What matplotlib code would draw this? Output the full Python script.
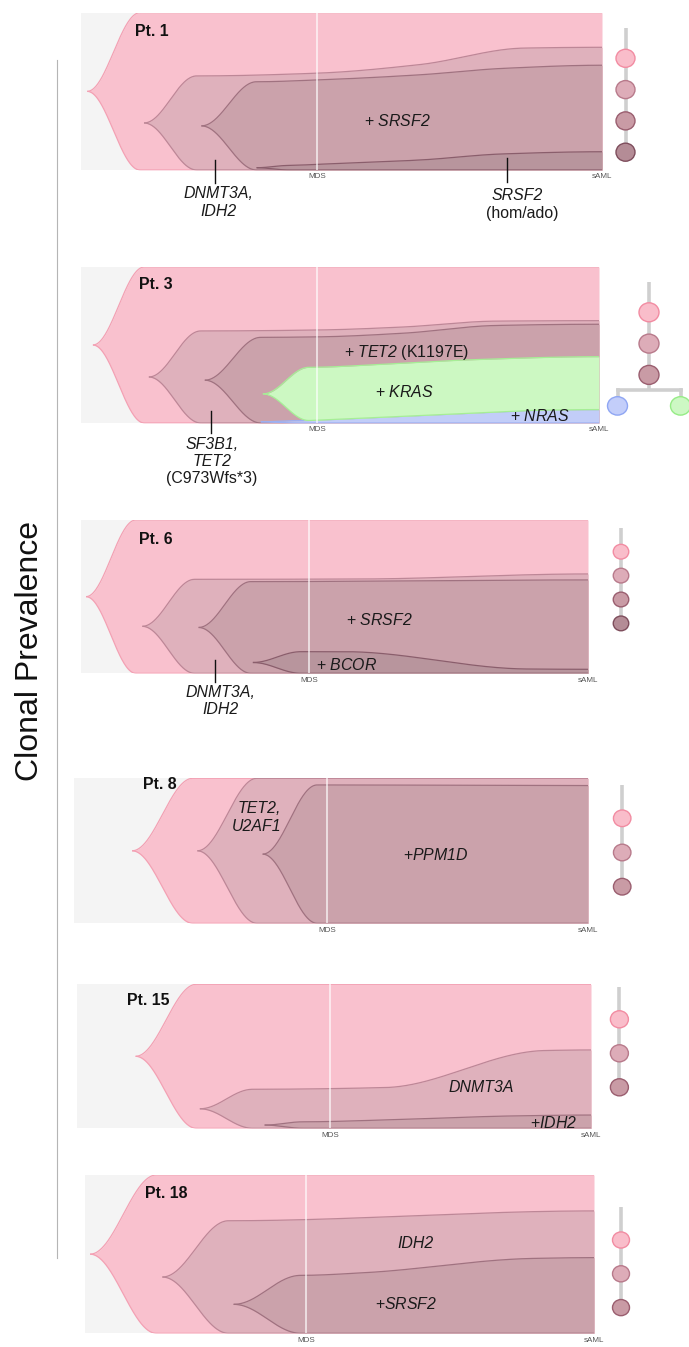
import numpy as np
import matplotlib
matplotlib.use("Agg")
import matplotlib.pyplot as plt
from matplotlib.patches import Ellipse

plt.rcParams['font.family'] = ['Liberation Sans', 'DejaVu Sans']
plt.rcParams['mathtext.fontset'] = 'custom'
plt.rcParams['mathtext.rm'] = 'Liberation Sans'
plt.rcParams['mathtext.it'] = 'Liberation Sans:italic'
plt.rcParams['mathtext.sf'] = 'Liberation Sans:italic'
plt.rcParams['mathtext.bf'] = 'Liberation Sans:bold'

# ======================= DATA =======================
# time axis per panel: 0 = panel start, 100 = sAML sample; y = clonal prevalence (%)
patients = ["Pt. 1", "Pt. 3", "Pt. 6", "Pt. 8", "Pt. 15", "Pt. 18"]
mds_time = [45.3, 45.6, 45.0, 49.2, 49.2, 43.4]

# Pt. 1 : founder, DNMT3A/IDH2, +SRSF2, SRSF2 hom/ado
pt1_emerge = [1.2, 12.1, 23.1, 33.7]
pt1_expand = [11.3, 22.2, 33.7, 40.0]
pt1_t = [[11.3, 100], [22.2, 45, 65, 85, 100], [33.7, 45, 65, 81, 100], [40, 45.3, 65.3, 80.8, 100]]
pt1_v = [[100, 100], [59.8, 61.5, 67, 77.5, 78], [56.1, 57.2, 60.5, 64.6, 66.6], [2.9, 3.6, 6.4, 10.2, 11.6]]
pt1_below = [None, None, None, None]
pt1_kind = ["d1", "d2", "d3", "d4"]

# Pt. 3 : founder, SF3B1/TET2, +TET2 K1197E, +NRAS, +KRAS
pt3_emerge = [2.3, 13.1, 23.9, 34.7, 35.1]
pt3_expand = [12.2, 23.1, 34.7, 42.0, 44.0]
pt3_t = [[12.2, 100], [23.1, 45.6, 62, 80, 100], [34.7, 45.6, 62, 80, 100], [42, 50, 73.5, 90, 100], [44, 60, 75, 100]]
pt3_v = [[100, 100], [59, 59.6, 61.5, 65.3, 65.6], [54.9, 55.2, 57.5, 62.5, 63.3], [1.5, 2.5, 6.0, 8.3, 8.6], [35.7, 38, 40.5, 42.5]]
pt3_below = [None, None, None, None, 3]
pt3_kind = ["d1", "d2", "d3", "blue", "green"]

# Pt. 6 : founder, DNMT3A/IDH2, +SRSF2, +BCOR
pt6_emerge = [1.0, 12.1, 23.2, 33.9]
pt6_expand = [10.8, 22.4, 33.5, 43.4]
pt6_t = [[10.8, 100], [22.4, 55, 100], [33.5, 100], [43.4, 52, 88, 100]]
pt6_v = [[100, 100], [61.3, 61.5, 64.8], [59.8, 60.9], [14.1, 14.1, 2.8, 2.6]]
pt6_below = [None, None, None, None]
pt6_kind = ["d1", "d2", "d3", "d4"]

# Pt. 8 : founder, TET2/U2AF1, +PPM1D
pt8_emerge = [11.3, 24.0, 36.7]
pt8_expand = [23.1, 35.6, 47.3]
pt8_t = [[23.1, 100], [35.6, 100], [47.3, 100]]
pt8_v = [[100, 100], [100, 100], [95.4, 95.0]]
pt8_below = [None, None, None]
pt8_kind = ["d1", "d2", "d3"]

# Pt. 15 : founder, DNMT3A, +IDH2
pt15_emerge = [11.4, 23.9, 36.5]
pt15_expand = [23.2, 34.2, 44.0]
pt15_t = [[23.2, 100], [34.2, 60, 91, 100], [44, 60, 85, 100]]
pt15_v = [[100, 100], [27.1, 28.3, 54, 54.4], [4.5, 5.8, 8.6, 9.2]]
pt15_below = [None, None, None]
pt15_kind = ["d1", "d2", "d3"]

# Pt. 18 : founder, IDH2, +SRSF2
pt18_emerge = [1.0, 15.2, 29.2]
pt18_expand = [14.0, 28.2, 42.4]
pt18_t = [[14, 100], [28.2, 100], [42.4, 55, 88, 100]]
pt18_v = [[100, 100], [71.1, 77.3], [36.6, 38.3, 47.3, 47.8]]
pt18_below = [None, None, None]
pt18_kind = ["d1", "d2", "d3"]

# label texts
pt1_texts = [r"+ $\mathsf{SRSF2}$", "DNMT3A,", "IDH2", "SRSF2", "(hom/ado)"]
pt3_texts = [r"+ $\mathsf{TET2}$ (K1197E)", r"+ $\mathsf{KRAS}$", r"+ $\mathsf{NRAS}$", "SF3B1,", "TET2", "(C973Wfs*3)"]
pt6_texts = [r"+ $\mathsf{SRSF2}$", r"+ $\mathsf{BCOR}$", "DNMT3A,", "IDH2"]
pt8_texts = ["TET2,", "U2AF1", r"+$\mathsf{PPM1D}$"]
pt15_texts = ["DNMT3A", r"+$\mathsf{IDH2}$"]
pt18_texts = ["IDH2", r"+$\mathsf{SRSF2}$"]

# ======================= STYLE / LAYOUT =======================
W, H = 689, 1347
FILL = {'d1': '#F9C1CE', 'd2': '#DFB1BC', 'd3': '#CBA2AB', 'd4': '#B8959D',
        'green': '#CCF8C2', 'blue': '#C2CDF8'}
EDGE = {'d1': '#F3A0B3', 'd2': '#BD8797', 'd3': '#A07280', 'd4': '#8A5E6C',
        'green': '#A6EE96', 'blue': '#9DB0F2'}
TFILL = {'d1': '#F9BDCA', 'd2': '#DDACB8', 'd3': '#C99BA5', 'd4': '#B48C96',
         'blue': '#C3CEFA', 'green': '#CDF8C4'}
TEDGE = {'d1': '#F28CA2', 'd2': '#B87A8B', 'd3': '#9A5E6F', 'd4': '#7E4D5C',
         'blue': '#8FA6F3', 'green': '#96EC86'}
BG = '#F4F4F4'
FS = 11.4


def smooth(u):
    u = np.clip(u, 0, 1)
    return 0.5 - 0.5 * np.cos(np.pi * u)


def pchip0(xk, yk, x):
    xk = np.asarray(xk, float)
    yk = np.asarray(yk, float)
    x = np.clip(np.asarray(x, float), xk[0], xk[-1])
    n = len(xk)
    h = np.diff(xk)
    d = np.diff(yk) / h
    m = np.zeros(n)
    for k in range(1, n - 1):
        if d[k - 1] * d[k] > 0:
            w1 = 2 * h[k] + h[k - 1]
            w2 = h[k] + 2 * h[k - 1]
            m[k] = (w1 + w2) / (w1 / d[k - 1] + w2 / d[k])
    idx = np.clip(np.searchsorted(xk, x, side='right') - 1, 0, n - 2)
    tt = (x - xk[idx]) / h[idx]
    h00 = 2 * tt**3 - 3 * tt**2 + 1
    h10 = tt**3 - 2 * tt**2 + tt
    h01 = -2 * tt**3 + 3 * tt**2
    h11 = tt**3 - tt**2
    return h00 * yk[idx] + h10 * h[idx] * m[idx] + h01 * yk[idx + 1] + h11 * h[idx] * m[idx + 1]


def draw_fish(ax, emerge, expand, kt, kv, below, kind):
    for i in range(len(emerge)):
        t0, t1 = emerge[i], expand[i]
        t = np.unique(np.concatenate([np.linspace(t0, 100, 700), [t1]]))
        full_top = pchip0(kt[i], kv[i], t)
        if below[i] is None:
            full_bot = np.zeros_like(t)
            bot1 = 0.0
        else:
            full_bot = pchip0(kt[below[i]], kv[below[i]], t)
            bot1 = float(pchip0(kt[below[i]], kv[below[i]], [t1])[0])
        top1 = float(pchip0(kt[i], kv[i], [t1])[0])
        c = (top1 + bot1) / 2
        s = smooth((t - t0) / (t1 - t0))
        top = np.where(t < t1, c + (top1 - c) * s, full_top)
        bot = np.where(t < t1, c + (bot1 - c) * s, full_bot)
        z = 2 + i
        ax.fill_between(t, bot, top, color=FILL[kind[i]], lw=0, zorder=z)
        ax.plot(t, top, color=EDGE[kind[i]], lw=0.9, zorder=z + 0.5, solid_capstyle='butt')
        ax.plot(t, bot, color=EDGE[kind[i]], lw=0.9, zorder=z + 0.5, solid_capstyle='butt')


fig = plt.figure(figsize=(W / 100, H / 100), dpi=100)

boxes = [(81, 12.7, 602, 170), (81, 267, 599, 423), (81, 520, 588, 673.3),
         (74, 778.3, 588, 923.3), (77, 984.3, 591, 1128.3), (85, 1175, 594, 1333.3)]
fish = [(pt1_emerge, pt1_expand, pt1_t, pt1_v, pt1_below, pt1_kind),
        (pt3_emerge, pt3_expand, pt3_t, pt3_v, pt3_below, pt3_kind),
        (pt6_emerge, pt6_expand, pt6_t, pt6_v, pt6_below, pt6_kind),
        (pt8_emerge, pt8_expand, pt8_t, pt8_v, pt8_below, pt8_kind),
        (pt15_emerge, pt15_expand, pt15_t, pt15_v, pt15_below, pt15_kind),
        (pt18_emerge, pt18_expand, pt18_t, pt18_v, pt18_below, pt18_kind)]
title_pos = [(10.4, 87.9), (11.2, 89.1), (11.5, 87.3), (13.5, 96.0), (9.8, 88.6), (11.8, 88.4)]

axes = []
for p, (l, tp, r, b) in enumerate(boxes):
    ax = fig.add_axes([l / W, 1 - b / H, (r - l) / W, (b - tp) / H])
    ax.set_xlim(0, 100)
    ax.set_ylim(0, 100)
    ax.set_facecolor(BG)
    ax.set_xticks([])
    ax.set_yticks([])
    for sp in ax.spines.values():
        sp.set_visible(False)
    draw_fish(ax, *fish[p])
    ax.axvline(mds_time[p], color='white', lw=1.2, alpha=0.75, zorder=20)
    for xx, lab in [(mds_time[p], "MDS"), (100, "sAML")]:
        ax.annotate(lab, (xx, 0), xytext=(0, -5), textcoords='offset points',
                    ha='center', va='center', fontsize=5.8, color='#555555',
                    annotation_clip=False)
    ax.text(title_pos[p][0], title_pos[p][1], patients[p], ha='left', va='center',
            fontsize=11.4, fontweight='bold', color='#111111', zorder=30)
    axes.append(ax)


def lab(ax, x, y, s, style='normal'):
    ax.text(x, y, s, ha='center', va='center', fontsize=FS, style=style,
            color='#1a1a1a', zorder=30, clip_on=False)


def pointer(ax, x, y0, y1):
    ax.plot([x, x], [y0, y1], color='#111111', lw=1.0, zorder=30, clip_on=False)


# Pt. 1
a = axes[0]
lab(a, 60.7, 31.2, pt1_texts[0])
pointer(a, 25.8, 6.4, -8.1)
lab(a, 26.4, -14.8, pt1_texts[1], 'italic')
lab(a, 26.4, -26.5, pt1_texts[2], 'italic')
pointer(a, 81.8, 7.4, -7.4)
lab(a, 83.8, -15.9, pt1_texts[3], 'italic')
lab(a, 84.6, -27.5, pt1_texts[4])
# Pt. 3
a = axes[1]
lab(a, 62.9, 45.1, pt3_texts[0])
lab(a, 62.5, 20.1, pt3_texts[1])
lab(a, 88.6, 4.7, pt3_texts[2])
pointer(a, 25.0, 7.9, -6.2)
lab(a, 25.3, -14.1, pt3_texts[3], 'italic')
lab(a, 25.3, -24.8, pt3_texts[4], 'italic')
lab(a, 25.3, -35.4, pt3_texts[5])
# Pt. 6
a = axes[2]
lab(a, 58.8, 34.8, pt6_texts[0])
lab(a, 52.3, 5.2, pt6_texts[1])
pointer(a, 26.5, 8.7, -5.5)
lab(a, 27.5, -12.7, pt6_texts[2], 'italic')
lab(a, 27.5, -23.9, pt6_texts[3], 'italic')
# Pt. 8
a = axes[3]
lab(a, 36.0, 79.3, pt8_texts[0], 'italic')
lab(a, 35.6, 66.6, pt8_texts[1], 'italic')
lab(a, 70.3, 47.1, pt8_texts[2])
# Pt. 15
a = axes[4]
lab(a, 78.7, 28.2, pt15_texts[0], 'italic')
lab(a, 92.8, 3.9, pt15_texts[1])
# Pt. 18
a = axes[5]
lab(a, 64.9, 56.9, pt18_texts[0], 'italic')
lab(a, 63.1, 18.5, pt18_texts[1])

# ---------------- overlay (trees, axis label) in pixel units ----------------
ov = fig.add_axes([0, 0, 1, 1], zorder=50)
ov.set_xlim(0, W)
ov.set_ylim(H, 0)
ov.axis('off')
ov.patch.set_alpha(0)

tree_layout = [(625.5, 28, 58.3, 31.3, 19), (649, 281.7, 312.3, 31.3, 20),
               (621, 528, 551.7, 23.9, 15.5), (622.2, 785, 818.3, 34.2, 17.5),
               (619.4, 986.7, 1019.3, 34, 18), (621, 1206.7, 1240, 33.8, 17)]
LINE_C = '#CFCFCF'
for p, (tx, ltop, y0, sp, dia) in enumerate(tree_layout):
    kinds = [k for k in fish[p][5] if k.startswith('d')]
    branch = [k for k in fish[p][5] if not k.startswith('d')]
    ys = [y0 + i * sp for i in range(len(kinds))]
    if branch:
        bar_y = ys[-1] + 15
        cy = bar_y + 16
        cxs = [tx - 31.5, tx + 31.5]
        ov.plot([tx, tx], [ltop, bar_y], color=LINE_C, lw=2.6, zorder=1, solid_capstyle='butt')
        ov.plot([cxs[0], cxs[1]], [bar_y, bar_y], color=LINE_C, lw=2.6, zorder=1)
        for cx, k in zip(cxs, sorted(branch)):
            ov.plot([cx, cx], [bar_y, cy], color=LINE_C, lw=2.6, zorder=1)
            ov.add_patch(Ellipse((cx, cy), dia, dia * 0.92, facecolor=TFILL[k],
                                 edgecolor=TEDGE[k], lw=1.0, zorder=3))
    else:
        ov.plot([tx, tx], [ltop, ys[-1] + 8], color=LINE_C, lw=2.6, zorder=1, solid_capstyle='butt')
    for yy, k in zip(ys, kinds):
        ov.add_patch(Ellipse((tx, yy), dia, dia * 0.95, facecolor=TFILL[k],
                             edgecolor=TEDGE[k], lw=1.0, zorder=3))

ov.plot([57.3, 57.3], [60, 1258], color='#B5B5B5', lw=0.8)
fig.text(30 / W, 1 - 651 / H, "Clonal Prevalence", rotation=90, ha='center', va='center',
         fontsize=23, color='#111111')

fig.savefig('out.png', dpi=100)
